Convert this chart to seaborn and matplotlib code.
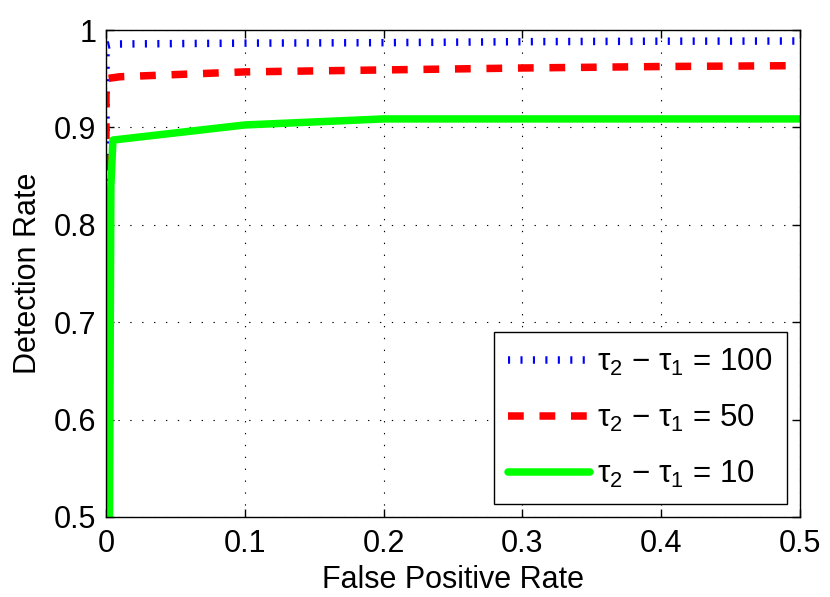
import numpy as np
import pandas as pd
import seaborn as sns
import matplotlib
matplotlib.use("Agg")
import matplotlib.pyplot as plt
from matplotlib.ticker import FuncFormatter

# ROC-like curves
fpr_100 = [0, 0, 0.005, 0.1, 0.2, 0.3, 0.4, 0.5]
det_100 = [0.5, 0.984, 0.9856, 0.9865, 0.987, 0.988, 0.9885, 0.9887]

fpr_50 = [0, 0, 0.01, 0.1, 0.2, 0.3, 0.4, 0.5]
det_50 = [0.5, 0.95, 0.952, 0.957, 0.959, 0.961, 0.9625, 0.9634]

fpr_10 = [0.0025, 0.0035, 0.005, 0.1, 0.2, 0.3, 0.4, 0.5]
det_10 = [0.5, 0.84, 0.887, 0.9025, 0.9087, 0.9087, 0.9087, 0.9087]

labels = ["τ$_2$ − τ$_1$ = 100", "τ$_2$ − τ$_1$ = 50", "τ$_2$ − τ$_1$ = 10"]
xticks = [0, 0.1, 0.2, 0.3, 0.4, 0.5]
yticks = [0.5, 0.6, 0.7, 0.8, 0.9, 1.0]

sns.set_style("ticks")
plt.rcParams["font.family"] = ["Liberation Sans", "DejaVu Sans"]
plt.rcParams["mathtext.fontset"] = "custom"
plt.rcParams["mathtext.rm"] = "Liberation Sans"
plt.rcParams["mathtext.it"] = "Liberation Sans"
plt.rcParams["mathtext.bf"] = "Liberation Sans:bold"
plt.rcParams["text.color"] = "black"
plt.rcParams["axes.labelcolor"] = "black"

FS = 22
LW = 5.4

fig = plt.figure(figsize=(8.3, 5.97), dpi=100)
ax = fig.add_axes([106 / 830, 1 - 517 / 597, (800 - 106) / 830, (517 - 30) / 597])

sns.lineplot(x=fpr_100, y=det_100, ax=ax, sort=False, estimator=None, color="#0000ff",
             linewidth=LW, linestyle=(0, (0.28, 1.38)), label=labels[0])
sns.lineplot(x=fpr_50, y=det_50, ax=ax, sort=False, estimator=None, color="#ff0000",
             linewidth=LW, linestyle=(0, (2.1, 2.1)), label=labels[1])
sns.lineplot(x=fpr_10, y=det_10, ax=ax, sort=False, estimator=None, color="#00ff00",
             linewidth=LW, linestyle="-", label=labels[2])

ax.set_xlim(0, 0.5)
ax.set_ylim(0.5, 1)
ax.set_xticks(xticks)
ax.set_yticks(yticks)
ax.xaxis.set_major_formatter(FuncFormatter(lambda v, p: "%g" % v))
ax.yaxis.set_major_formatter(FuncFormatter(lambda v, p: "%g" % v))
ax.tick_params(direction="in", length=6, width=1, top=True, right=True,
               labelsize=FS, colors="black", labelcolor="black")
ax.tick_params(axis="x", pad=9)
ax.tick_params(axis="y", pad=7)
for s in ax.spines.values():
    s.set_visible(True)
    s.set_linewidth(1)
    s.set_color("black")
ax.grid(True, color="black", linestyle=(0, (1.2, 9.5)), linewidth=0.8)
ax.set_axisbelow(True)

ax.set_xlabel("False Positive Rate", fontsize=FS, labelpad=4, color="black")
ax.set_ylabel("Detection Rate", fontsize=FS, labelpad=8, color="black")

leg = ax.legend(loc="lower right", fontsize=22.5, frameon=True, fancybox=False,
                edgecolor="black", framealpha=1, handlelength=2.6,
                borderaxespad=0.42, labelspacing=0.8, handletextpad=0.25,
                borderpad=0.45)
leg.get_frame().set_linewidth(1)

fig.savefig("out.png", dpi=100)
